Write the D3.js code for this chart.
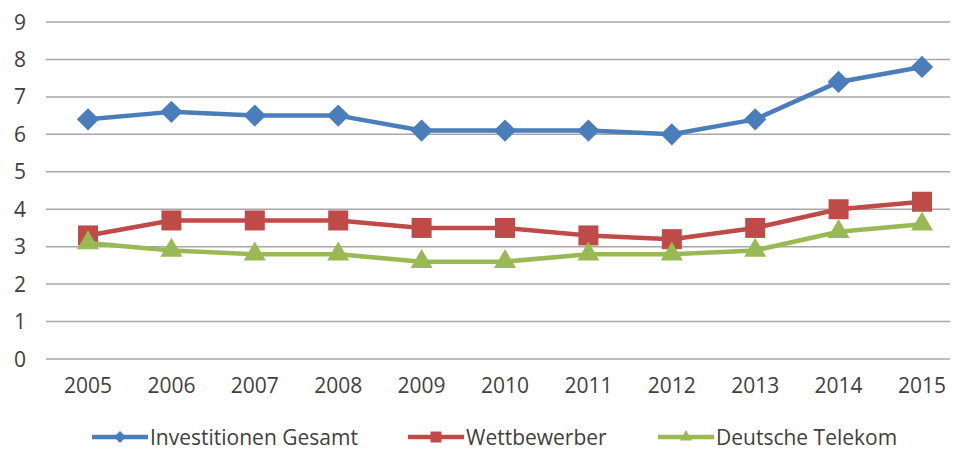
<!DOCTYPE html>
<html>
<head>
<meta charset="utf-8">
<script src="https://cdn.jsdelivr.net/npm/d3@7"></script>
<style>
  body { margin: 0; background: #fff; }
  text { font-family: "Open Sans", sans-serif; fill: #404040; }
</style>
</head>
<body>
<svg width="956" height="450"></svg>
<script>
const years = ["2005", "2006", "2007", "2008", "2009", "2010", "2011", "2012", "2013", "2014", "2015"];
const gesamt = [6.4, 6.6, 6.5, 6.5, 6.1, 6.1, 6.1, 6.0, 6.4, 7.4, 7.8];
const wettbewerber = [3.3, 3.7, 3.7, 3.7, 3.5, 3.5, 3.3, 3.2, 3.5, 4.0, 4.2];
const telekom = [3.1, 2.9, 2.8, 2.8, 2.6, 2.6, 2.8, 2.8, 2.9, 3.4, 3.6];
const yTicks = [0, 1, 2, 3, 4, 5, 6, 7, 8, 9];

// diamond = square turned by 45 degrees
const series = [
  { name: "Investitionen Gesamt", values: gesamt, color: "#4a7ebb", shape: d3.symbolSquare, size: 250, rot: 45 },
  { name: "Wettbewerber", values: wettbewerber, color: "#be4b48", shape: d3.symbolSquare, size: 400, rot: 0 },
  { name: "Deutsche Telekom", values: telekom, color: "#98b954", shape: d3.symbolTriangle, size: 210, rot: 0 },
];

const svg = d3.select("svg");

let x = d3.scalePoint().domain(years).range([88, 922]);
let y = d3.scaleLinear().domain([0, 9]).range([359, 22]);

// gridlines
svg.append("g")
  .selectAll("line")
  .data(yTicks)
  .enter()
  .append("line")
  .attr("x1", 46)
  .attr("x2", 950)
  .attr("y1", (d) => y(d))
  .attr("y2", (d) => y(d))
  .attr("stroke", "#a6a6a6")
  .attr("stroke-width", 1.5);

// y labels
svg.append("g")
  .selectAll("text")
  .data(yTicks)
  .enter()
  .append("text")
  .attr("x", 20)
  .attr("y", (d) => y(d))
  .attr("dy", "0.36em")
  .attr("text-anchor", "middle")
  .style("font-size", "21px")
  .text((d) => d);

// x labels
svg.append("g")
  .selectAll("text")
  .data(years)
  .enter()
  .append("text")
  .attr("x", (d) => x(d))
  .attr("y", 393)
  .attr("text-anchor", "middle")
  .style("font-size", "21px")
  .text((d) => d);

let line = d3.line()
  .x((d, i) => x(years[i]))
  .y((d) => y(d));

series.forEach((s) => {
  let g = svg.append("g");
  g.append("path")
    .attr("d", line(s.values))
    .attr("fill", "none")
    .attr("stroke", s.color)
    .attr("stroke-width", 4.5)
    .attr("stroke-linejoin", "round");
  g.selectAll("path.mark")
    .data(s.values)
    .enter()
    .append("path")
    .classed("mark", true)
    .attr("transform", (d, i) => `translate(${x(years[i])},${y(d)}) rotate(${s.rot})`)
    .attr("d", d3.symbol().type(s.shape).size(s.size))
    .attr("fill", s.color);
});

// legend
const legendX = [92, 408, 658];
const legend = svg.append("g")
  .selectAll("g")
  .data(series)
  .enter()
  .append("g")
  .attr("transform", (d, i) => `translate(${legendX[i]},437)`);

legend.append("line")
  .attr("x1", 0)
  .attr("x2", 56)
  .attr("stroke", (d) => d.color)
  .attr("stroke-width", 4.5);

legend.append("path")
  .attr("transform", (d) => `translate(28,0) rotate(${d.rot})`)
  .attr("d", (d) => d3.symbol().type(d.shape).size(d.size * 0.3)())
  .attr("fill", (d) => d.color);

legend.append("text")
  .attr("x", 58)
  .attr("dy", "0.36em")
  .style("font-size", "21px")
  .text((d) => d.name);
</script>
</body>
</html>
